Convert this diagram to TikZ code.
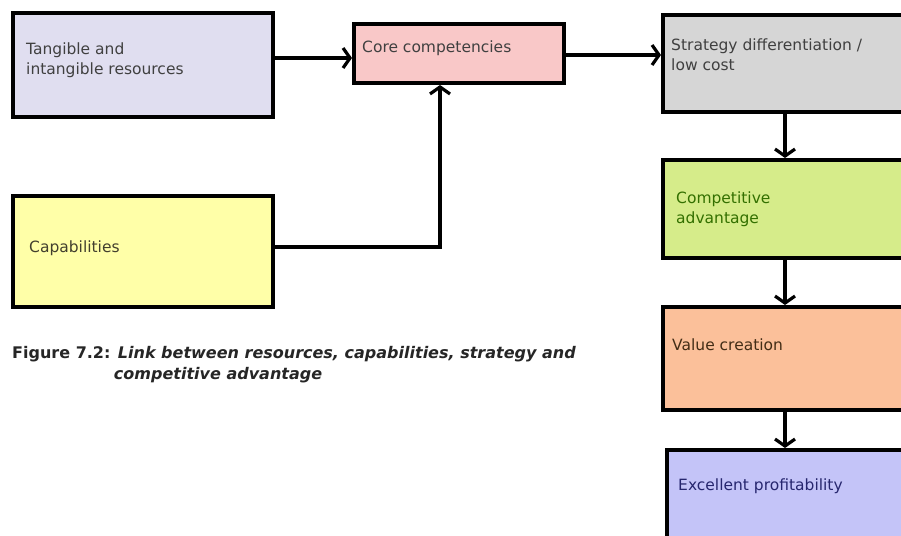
\documentclass[tikz,border=0pt]{standalone}
\usepackage{fontspec}
\setmainfont{DejaVu Sans}
\usetikzlibrary{arrows.meta}
\definecolor{cTang}{HTML}{E0DEF0}
\definecolor{cCore}{HTML}{F9C8C8}
\definecolor{cStrat}{HTML}{D6D6D6}
\definecolor{cCap}{HTML}{FFFFA8}
\definecolor{cComp}{HTML}{D6EC8A}
\definecolor{cVal}{HTML}{FBC09A}
\definecolor{cExc}{HTML}{C4C4F8}
\tikzset{
  box/.style={draw=black, line width=4pt, rectangle, inner sep=0pt},
  lbl/.style={anchor=west, align=left, inner sep=0pt, font=\fontsize{15.5}{20}\selectfont},
  conn/.style={line width=3.5pt, -{Straight Barb[length=7pt,width=20pt,line width=3.2pt]}},
}
\begin{document}
\begin{tikzpicture}[x=1pt,y=-1pt]
\useasboundingbox (0,0) rectangle (901,535);
\clip (0,0) rectangle (901,535);
\fill[white] (0,0) rectangle (901,535);
% boxes
\node[box, fill=cTang, minimum width=260pt, minimum height=104pt] (tang) at (143,65) {};
\node[box, fill=cCore, minimum width=210pt, minimum height=59pt] (core) at (459,53.5) {};
\node[box, fill=cStrat, minimum width=262pt, minimum height=97pt] (strat) at (794,63.5) {};
\node[box, fill=cCap, minimum width=260pt, minimum height=111pt] (cap) at (143,251.5) {};
\node[box, fill=cComp, minimum width=262pt, minimum height=98pt] (comp) at (794,209) {};
\node[box, fill=cVal, minimum width=262pt, minimum height=103pt] (val) at (794,358.5) {};
\node[box, fill=cExc, minimum width=258pt, minimum height=110pt] (exc) at (796,505) {};
% labels
\node[lbl, text=black!75] (tTang) at (26,60) {Tangible and\\intangible resources};
\node[lbl, text=black!75] (tCore) at (362,48) {Core competencies};
\node[lbl, text=black!75] (tStrat) at (671,55) {Strategy differentiation /\\low cost};
\node[lbl, text=black!70!olive] (tCap) at (29,248) {Capabilities};
\node[lbl, text=black!60!green!60!olive] (tComp) at (676,209) {Competitive\\advantage};
\node[lbl, text=black!65!brown] (tVal) at (672,345) {Value creation};
\node[lbl, text=black!60!blue!70!gray] (tExc) at (678,486) {Excellent profitability};
% caption
\node[anchor=north west, align=left, inner sep=0pt, font=\bfseries\fontsize{16}{21}\selectfont, text=black!85] (cap1) at (12,346)
  {Figure 7.2: \textit{Link between resources, capabilities, strategy and}\\
   \phantom{Figure 7.2: }\hspace*{-4pt}\textit{competitive advantage}};
% connectors
\coordinate (y1) at (0,58);
\coordinate (y2) at (0,55);
\coordinate (ax) at (785,0);
\coordinate (bx) at (440,0);
\coordinate (capout) at (273,247);
\draw[conn] (tang.east |- y1) -- (core.west |- y1);
\draw[conn] (core.east |- y2) -- (strat.west |- y2);
\draw[line width=3.5pt] (capout) -- (capout -| bx) coordinate (bend);
\draw[conn] ([yshift=-1.75pt]bend) -- (core.south -| bx);
\draw[conn] (strat.south -| ax) -- (comp.north -| ax);
\draw[conn] (comp.south -| ax) -- (val.north -| ax);
\draw[conn] (val.south -| ax) -- (exc.north -| ax);
\end{tikzpicture}
\end{document}
